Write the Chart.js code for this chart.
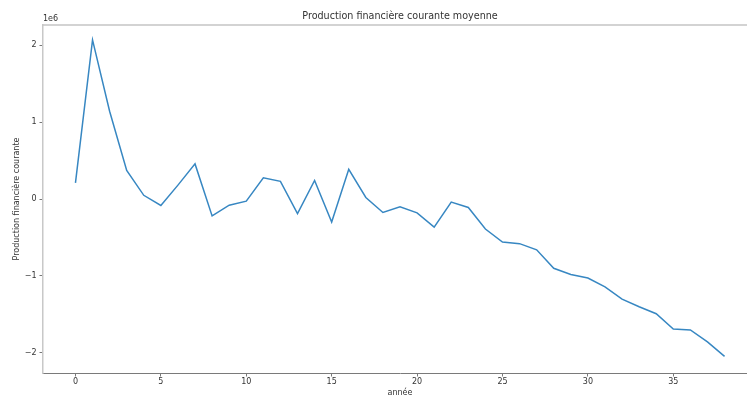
<!DOCTYPE html>
<html>
<head>
<meta charset="utf-8">
<script src="https://cdn.jsdelivr.net/npm/chart.js@4/dist/chart.umd.min.js"></script>
<style>
  html, body { margin: 0; padding: 0; background: #fff; overflow: hidden; width: 747px; height: 396px; }
  #wrap { width: 747px; height: 396px; overflow: hidden; position: relative; }
  canvas { position: absolute; left: 0; top: 0; display: block; }
</style>
</head>
<body>
<div id="wrap"><canvas id="c" width="790" height="396"></canvas></div>
<script>
// Mean current financial production per year (raw units)
const years = [];
for (let i = 0; i <= 38; i++) years.push(i);
const production = [
  210000, 2066000, 1140000, 370000, 48000, -84000, 180000, 456000, -220000, -80000,
  -28000, 275000, 230000, -190000, 240000, -300000, 385000, 20000, -175000, -100000,
  -180000, -365000, -40000, -110000, -390000, -560000, -580000, -660000, -900000, -980000,
  -1026000, -1140000, -1300000, -1400000, -1490000, -1690000, -1700000, -1855000, -2044000
];
const xTicks = [0, 5, 10, 15, 20, 25, 30, 35];
const yTicks = [-2, -1, 0, 1, 2]; // in units of 1e6

const titleText = 'Production financière courante moyenne';
const yLabel = 'Production financière courante';
const xLabel = 'année';
const offsetText = '1e6';

const FONT = '"DejaVu Sans", sans-serif';
const TEXT = '#333';

const decor = {
  id: 'decor',
  afterDraw(chart) {
    const { ctx, chartArea: a } = chart;
    ctx.save();
    // top spine
    ctx.strokeStyle = '#c4c4c4';
    ctx.lineWidth = 1.5;
    ctx.beginPath();
    ctx.moveTo(a.left - 0.75, a.top);
    ctx.lineTo(a.right, a.top);
    ctx.stroke();

    ctx.fillStyle = TEXT;
    // title
    ctx.font = '9.6px ' + FONT;
    ctx.textAlign = 'center';
    ctx.textBaseline = 'middle';
    ctx.fillText(titleText, (a.left + a.right) / 2, 16.5);
    // offset label
    ctx.font = '8px ' + FONT;
    ctx.textAlign = 'left';
    ctx.fillText(offsetText, a.left, 18.5);
    // x axis label
    ctx.textAlign = 'center';
    ctx.textBaseline = 'top';
    ctx.fillText(xLabel, (a.left + a.right) / 2, 389);
    // y axis label
    ctx.translate(16.5, (a.top + a.bottom) / 2);
    ctx.rotate(-Math.PI / 2);
    ctx.textBaseline = 'middle';
    ctx.fillText(yLabel, 0, 0);
    ctx.restore();
  }
};

new Chart(document.getElementById('c'), {
  type: 'line',
  data: {
    datasets: [{
      data: years.map((x, i) => ({ x: x, y: production[i] })),
      borderColor: '#3787c2',
      borderWidth: 1.5,
      pointRadius: 0,
      tension: 0,
      fill: false
    }]
  },
  options: {
    responsive: false,
    animation: false,
    devicePixelRatio: 1,
    layout: { padding: { left: 0, right: 33, top: 25, bottom: 0 } },
    plugins: { legend: { display: false }, tooltip: { enabled: false }, title: { display: false } },
    scales: {
      x: {
        type: 'linear',
        min: -1.9,
        max: 39.9,
        afterBuildTicks(s) { s.ticks = xTicks.map(v => ({ value: v })); },
        afterFit(s) { s.height = 23; },
        ticks: { color: TEXT, font: { family: FONT, size: 8 }, padding: 1, maxRotation: 0, autoSkip: false },
        grid: { drawOnChartArea: false, drawTicks: true, tickLength: 3.5, tickColor: '#555', tickWidth: 0.8 },
        border: { color: '#7a7a7a', width: 1 }
      },
      y: {
        type: 'linear',
        min: -2.26e6,
        max: 2.26e6,
        afterBuildTicks(s) { s.ticks = yTicks.map(v => ({ value: v * 1e6 })); },
        afterFit(s) { s.width = 43; },
        ticks: {
          color: TEXT, font: { family: FONT, size: 8 }, padding: 3, autoSkip: false,
          callback: v => String(Math.round(v / 1e6)).replace('-', '\u2212')
        },
        grid: { drawOnChartArea: false, drawTicks: true, tickLength: 3.5, tickColor: '#555', tickWidth: 0.8 },
        border: { color: '#c8c8c8', width: 1.5 }
      }
    }
  },
  plugins: [decor]
});
</script>
</body>
</html>
